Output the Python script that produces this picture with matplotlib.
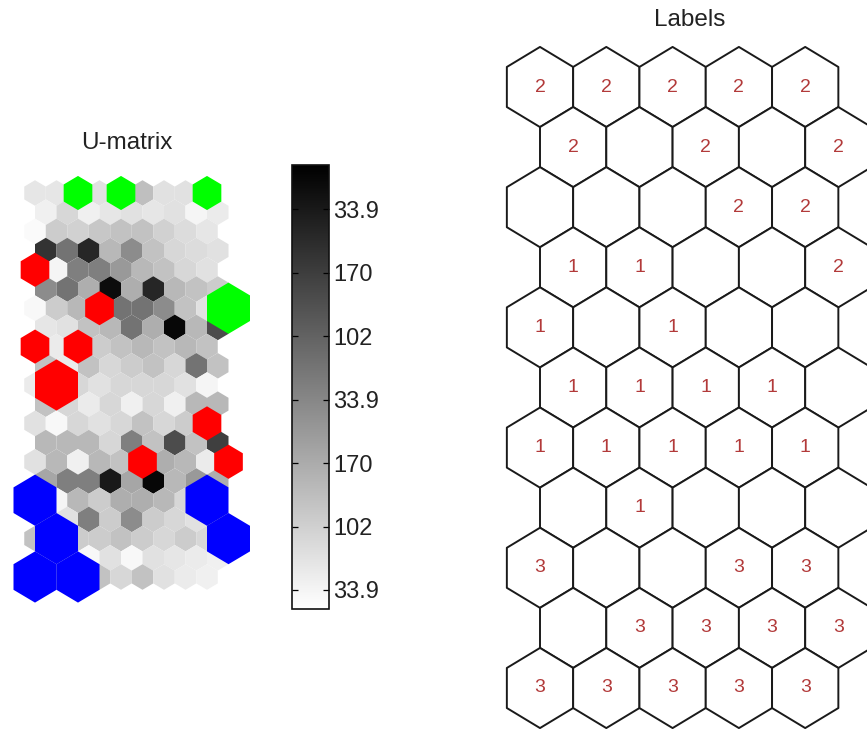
import numpy as np
import matplotlib
matplotlib.use("Agg")
import matplotlib.pyplot as plt
from matplotlib.collections import PolyCollection
from matplotlib.colors import Normalize

plt.rcParams['font.family'] = ['Liberation Sans', 'DejaVu Sans']

# Self-organising map: 11 x 5 units on a hexagonal lattice
map_rows, map_cols = 11, 5

# U-matrix (2*11-1 rows x 2*5-1 columns), distance in percent of the maximum
umatrix = [
    [10, 10, 12, 12, 12, 25, 12, 12, 12],
    [6, 16, 6, 10, 12, 10, 12, 4, 8],
    [2, 20, 18, 22, 24, 24, 18, 14, 10],
    [80, 55, 85, 28, 45, 24, 16, 14, 12],
    [25, 4, 50, 50, 40, 28, 24, 16, 12],
    [45, 55, 32, 95, 32, 85, 28, 24, 20],
    [3, 20, 28, 45, 55, 55, 45, 24, 12],
    [10, 12, 24, 28, 55, 32, 97, 28, 70],
    [24, 8, 24, 20, 24, 28, 24, 28, 24],
    [24, 8, 24, 16, 20, 24, 16, 55, 24],
    [8, 24, 16, 12, 16, 16, 16, 12, 4],
    [24, 16, 8, 16, 6, 16, 6, 28, 28],
    [12, 3, 16, 12, 16, 24, 16, 20, 24],
    [28, 28, 28, 16, 50, 24, 70, 24, 75],
    [12, 28, 6, 28, 24, 32, 32, 28, 8],
    [35, 50, 50, 90, 35, 97, 28, 40, 32],
    [24, 4, 28, 20, 32, 32, 28, 16, 24],
    [24, 12, 50, 20, 45, 20, 16, 12, 24],
    [24, 20, 20, 20, 24, 20, 16, 20, 16],
    [16, 16, 3, 12, 3, 12, 10, 8, 6],
    [16, 16, 16, 24, 16, 24, 12, 8, 6],
]

# Hits of the data samples on the map units, per class
hit_rows = [0, 0, 0, 3,
            2, 3, 4, 4, 5, 6, 7, 7,
            8, 9, 10, 10, 8, 9]
hit_cols = [1, 2, 4, 4,
            0, 1, 0, 1, 0, 4, 4, 2,
            0, 0, 0, 1, 4, 4]
hit_counts = [2, 2, 2, 3,
              2, 2, 2, 2, 3, 2, 2, 2,
              3, 3, 3, 3, 3, 3]
hit_class = [2, 2, 2, 2,
             1, 1, 1, 1, 1, 1, 1, 1,
             3, 3, 3, 3, 3, 3]
class_colors = {1: '#ff0000', 2: '#00ff00', 3: '#0000ff'}

# Class label of each map unit ('' = no label)
unit_labels = [
    ['2', '2', '2', '2', '2'],
    ['2', '', '2', '', '2'],
    ['', '', '', '2', '2'],
    ['1', '1', '', '', '2'],
    ['1', '', '1', '', ''],
    ['1', '1', '1', '1', ''],
    ['1', '1', '1', '1', '1'],
    ['', '1', '', '', ''],
    ['3', '', '', '3', '3'],
    ['', '3', '3', '3', '3'],
    ['3', '3', '3', '3', '3'],
]

# Colorbar tick labels, bottom to top
cbar_labels = ['33.9', '102', '170', '33.9', '102', '170', '33.9']

# ---------------------------------------------------------------------------
W, H = 867, 729
fig = plt.figure(figsize=(W / 100, H / 100), dpi=100)
fig.patch.set_facecolor('white')


def px_axes(x0, y0, x1, y1):
    return fig.add_axes([x0 / W, 1 - y1 / H, (x1 - x0) / W, (y1 - y0) / H])


HEX = np.array([[0, -2 / 3], [0.5, -1 / 3], [0.5, 1 / 3],
                [0, 2 / 3], [-0.5, 1 / 3], [-0.5, -1 / 3]])


def hexagon(cx, cy, scale=1.0):
    return HEX * scale + np.array([cx, cy])


# ---------------- U-matrix ----------------
U = np.array(umatrix, dtype=float)
ax_u = px_axes(0, 160, 262, 622)
u_x0, u_dx, u_y0, u_dy = 35.0, 21.5, 193.0, 19.2
ax_u.set_xlim((0 - u_x0) / u_dx, (262 - u_x0) / u_dx)
ax_u.set_ylim((622 - u_y0) / u_dy, (160 - u_y0) / u_dy)
ax_u.set_axis_off()

verts, vals = [], []
for k in range(U.shape[0]):
    for c in range(U.shape[1]):
        verts.append(hexagon(c + 0.5 * (k % 2), k))
        vals.append(U[k, c])
norm = Normalize(vmin=0, vmax=100)
pc = PolyCollection(verts, cmap='gray_r', norm=norm, edgecolors='none')
pc.set_array(np.array(vals))
ax_u.add_collection(pc)

max_hits = max(hit_counts)
hv, hc = [], []
for r, j, n, cl in zip(hit_rows, hit_cols, hit_counts, hit_class):
    hv.append(hexagon(2 * j + (r % 2), 2 * r, 2 * n / max_hits))
    hc.append(class_colors[cl])
ax_u.add_collection(PolyCollection(hv, facecolors=hc, edgecolors='none'))

fig.text(127 / W, 1 - 143 / H, 'U-matrix', ha='center', va='center',
         fontsize=17.5, color='#222222')

# ---------------- colorbar ----------------
cax = px_axes(292, 165, 329, 609)
cb = fig.colorbar(pc, cax=cax)
ticks = np.linspace(100 * 0.3 / 7, 100 * 6.3 / 7, len(cbar_labels))
cb.set_ticks(ticks)
cb.set_ticklabels(cbar_labels)
cax.yaxis.set_ticks_position('both')
cax.yaxis.set_label_position('right')
cax.tick_params(axis='y', direction='in', length=4, width=0.9,
                labelsize=17, pad=3, labelright=True, labelleft=False,
                labelcolor='#222222')
cb.outline.set_linewidth(1.2)
cb.outline.set_edgecolor('#111111')

# ---------------- Labels ----------------
ax_l = px_axes(500, 40, 900, 735)
l_x0, l_dx, l_y0, l_dy = 540.0, 66.3, 87.0, 60.1
ax_l.set_xlim((500 - l_x0) / l_dx, (900 - l_x0) / l_dx)
ax_l.set_ylim((735 - l_y0) / l_dy, (40 - l_y0) / l_dy)
ax_l.set_axis_off()

lv = []
for r in range(map_rows):
    for j in range(map_cols):
        cx = j + 0.5 * (r % 2)
        lv.append(hexagon(cx, r))
        if unit_labels[r][j]:
            ax_l.text(cx, r, unit_labels[r][j], ha='center', va='center',
                      fontsize=14, color='#b23a3a')
ax_l.add_collection(PolyCollection(lv, facecolors='white',
                                   edgecolors='#1a1a1a', linewidths=1.4))

fig.text(690 / W, 1 - 20 / H, 'Labels', ha='center', va='center',
         fontsize=17.5, color='#222222')

fig.savefig('out.png', dpi=100, facecolor='white')
